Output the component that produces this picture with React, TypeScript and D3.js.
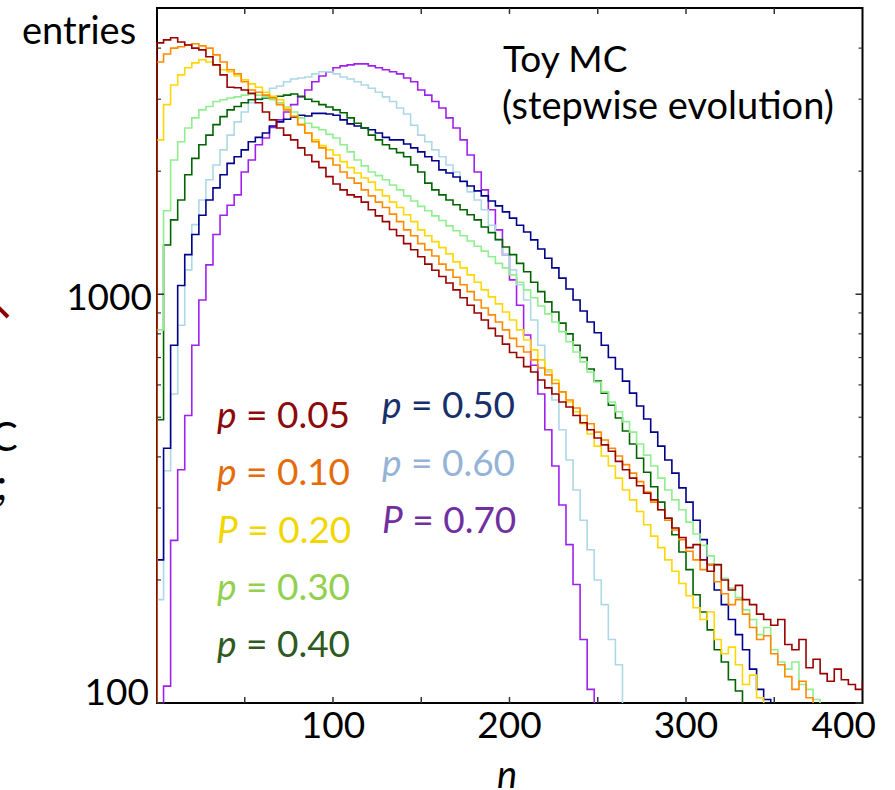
import React from "react";
import * as d3 from "d3";

// Histogram bins: each array starts at n = 0, bins are BIN_WIDTH wide.
const BIN_WIDTH = 4;

const p005 = [4120, 4190, 4240, 4140, 4070, 4000, 3960, 3810, 3640, 3440, 3210, 3200, 3160, 3100, 2940, 2790, 2670, 2550, 2450, 2385, 2280, 2190, 2110, 2040, 1940, 1860, 1800, 1750, 1730, 1680, 1610, 1555, 1505, 1440, 1390, 1330, 1285, 1235, 1185, 1145, 1105, 1065, 1025, 980, 940, 900, 865, 825, 790, 755, 720, 700, 665, 645, 617, 590, 570, 545, 530, 505, 485, 466, 445, 428, 413, 390, 372, 355, 340, 326, 314, 297, 283, 268, 254, 240, 244, 224, 210, 218, 200, 189, 194, 179, 174, 165, 160, 155, 160, 139, 135, 143, 122, 128, 118, 113, 121, 114, 111, 108, 113, 104];
const p010 = [3700, 3870, 4000, 4030, 4070, 4100, 4050, 4000, 3850, 3700, 3540, 3460, 3310, 3160, 3120, 3070, 3020, 2910, 2825, 2720, 2600, 2480, 2360, 2280, 2150, 2070, 1990, 1925, 1870, 1800, 1740, 1680, 1630, 1570, 1505, 1437, 1390, 1330, 1284, 1240, 1185, 1147, 1100, 1055, 1015, 968, 925, 890, 855, 818, 780, 745, 722, 691, 660, 635, 605, 577, 551, 527, 505, 482, 460, 440, 420, 402, 383, 365, 348, 328, 310, 297, 280, 265, 251, 235, 224, 212, 218, 198, 185, 174, 179, 165, 153, 143, 146, 132, 124, 116, 108, 113, 103];
const p020 = [2385, 2910, 3250, 3440, 3580, 3680, 3745, 3700, 3640, 3540, 3500, 3420, 3345, 3270, 3210, 3120, 3050, 2990, 2855, 2730, 2600, 2480, 2385, 2310, 2255, 2190, 2110, 2040, 1980, 1925, 1880, 1800, 1740, 1680, 1630, 1565, 1505, 1437, 1390, 1345, 1300, 1255, 1200, 1160, 1115, 1070, 1025, 985, 947, 905, 865, 818, 773, 731, 691, 653, 617, 577, 545, 516, 482, 455, 425, 402, 380, 355, 332, 314, 294, 273, 256, 240, 224, 210, 196, 183, 171, 160, 167, 143, 132, 137, 124, 111, 117, 103];
const p030 = [818, 1600, 2130, 2360, 2550, 2700, 2825, 2880, 2960, 2990, 3020, 3040, 3070, 3090, 3070, 3040, 2990, 2940, 2870, 2790, 2700, 2620, 2560, 2525, 2460, 2410, 2320, 2230, 2130, 2060, 1990, 1950, 1905, 1850, 1800, 1740, 1690, 1640, 1600, 1555, 1515, 1470, 1430, 1390, 1350, 1310, 1275, 1235, 1190, 1160, 1115, 1070, 1025, 980, 936, 895, 855, 810, 765, 722, 683, 645, 610, 577, 545, 516, 488, 460, 430, 404, 380, 355, 332, 314, 297, 277, 259, 243, 229, 217, 202, 191, 181, 169, 160, 147, 153, 135, 126, 121, 126, 111, 108, 102];
const p040 = [493, 1320, 1520, 1700, 1960, 2150, 2320, 2450, 2600, 2720, 2825, 2880, 2940, 2990, 3000, 3020, 3040, 3050, 3070, 3090, 3050, 3000, 2960, 2910, 2870, 2825, 2780, 2700, 2620, 2550, 2450, 2385, 2320, 2270, 2220, 2170, 2070, 1990, 1870, 1800, 1750, 1700, 1655, 1610, 1565, 1520, 1460, 1415, 1360, 1305, 1250, 1190, 1135, 1070, 1015, 958, 905, 850, 800, 750, 700, 656, 613, 573, 535, 498, 463, 430, 397, 367, 338, 310, 283, 258, 234, 212, 184, 167, 151, 135, 126, 114, 107];
const p050 = [224, 420, 750, 1050, 1250, 1400, 1560, 1700, 1820, 1960, 2090, 2170, 2255, 2360, 2420, 2480, 2580, 2640, 2680, 2710, 2740, 2730, 2770, 2770, 2760, 2740, 2670, 2610, 2580, 2550, 2525, 2480, 2420, 2385, 2385, 2330, 2280, 2230, 2170, 2120, 2015, 1980, 1935, 1890, 1840, 1790, 1740, 1690, 1645, 1590, 1535, 1475, 1420, 1358, 1290, 1225, 1160, 1095, 1030, 968, 910, 855, 805, 750, 700, 656, 613, 573, 533, 495, 460, 425, 393, 365, 336, 310, 280, 251, 218, 189, 174, 160, 147, 135, 121, 108, 102];
const p060 = [179, 370, 570, 840, 1147, 1480, 1700, 1905, 2070, 2255, 2450, 2640, 2790, 2940, 2990, 3070, 3190, 3230, 3310, 3360, 3380, 3400, 3460, 3500, 3500, 3460, 3400, 3360, 3310, 3250, 3190, 3120, 3040, 2960, 2855, 2760, 2590, 2450, 2360, 2255, 2170, 2070, 1990, 1880, 1780, 1700, 1610, 1475, 1358, 1250, 1147, 1055, 968, 865, 750, 645, 551, 466, 393, 332, 280, 237, 200, 174, 143, 124];
const p070 = [0, 110, 250, 372, 505, 750, 968, 1180, 1400, 1560, 1650, 1750, 1990, 2130, 2320, 2410, 2560, 2670, 2790, 2910, 3040, 3160, 3310, 3420, 3500, 3580, 3620, 3640, 3660, 3660, 3620, 3580, 3540, 3500, 3460, 3380, 3310, 3160, 3070, 2960, 2855, 2700, 2550, 2385, 2190, 1990, 1800, 1610, 1437, 1250, 1084, 940, 795, 670, 570, 466, 380, 305, 244, 195, 143, 108];

const seriesData = [p005, p010, p020, p030, p040, p050, p060, p070];
const seriesSymbols = ["p", "p", "P", "p", "p", "p", "p", "P"];
const seriesValues = ["0.05", "0.10", "0.20", "0.30", "0.40", "0.50", "0.60", "0.70"];
const lineColors = ["#990000", "#FF8C00", "#FFD700", "#90EE90", "#006400", "#00008B", "#ADD8E6", "#A020F0"];
const labelColors = ["#8B0A0A", "#E46C0A", "#F2D600", "#92D050", "#2F5A1E", "#17306B", "#95B3D7", "#7030A0"];

const xTickLabels = [100, 200, 300, 400];
const xMinorTicks = [50, 100, 150, 200, 250, 300, 350];
const yMajorTicks = [100, 1000];
const yMinorTicks = [200, 300, 400, 500, 600, 700, 800, 900, 2000, 3000, 4000];

const W = 895;
const H = 790;
const FONT = "Lato, 'Open Sans', sans-serif";

const left = 157;
const right = 862.5;
const top = 8;
const bottom = 703;

const x = d3.scaleLinear().domain([0, 400]).range([156.5, 862.5]);
const y = d3.scaleLog().domain([100, 5000]).range([703, 8.5]);

function histPath(values: number[]): string {
  const floorY = bottom + 4;
  const yy = (v: number) => (v < 100 ? floorY : y(v));
  const pts: [number, number][] = [[x(0), floorY]];
  values.forEach((v, i) => pts.push([x(i * BIN_WIDTH), yy(v)]));
  pts.push([x(values.length * BIN_WIDTH), floorY]);
  const line = d3
    .line<[number, number]>()
    .x((d) => d[0])
    .y((d) => d[1])
    .curve(d3.curveStepAfter);
  return line(pts) || "";
}

export default function App() {
  const drawOrder = [7, 6, 5, 4, 3, 2, 1, 0];
  return (
    <svg
      width={W}
      height={H}
      viewBox={`0 0 ${W} ${H}`}
      style={{ position: "absolute", left: 0, top: 0, background: "#fff" }}
      fontFamily={FONT}
    >
      <defs>
        <clipPath id="plotClip">
          <rect x={left - 1} y={top} width={right - left + 1} height={bottom - top} />
        </clipPath>
      </defs>
      <rect x={0} y={0} width={W} height={H} fill="#fff" />

      {/* fragments of neighbouring slide content at the left edge */}
      <line x1={-4} y1={305} x2={8} y2={317} stroke="#8B0000" strokeWidth={4} />
      <text x={-9} y={451} fontSize={40} fill="#000">C</text>
      <text x={-4} y={500} fontSize={44} fill="#000">;</text>

      {/* frame */}
      <rect x={left} y={top} width={right - left} height={bottom - top} fill="none" stroke="#000" strokeWidth={2} />

      {/* histograms */}
      <g clipPath="url(#plotClip)">
        {drawOrder.map((i) => (
          <path
            key={i}
            d={histPath(seriesData[i])}
            fill="none"
            stroke={lineColors[i]}
            strokeWidth={1.6}
            strokeLinejoin="miter"
          />
        ))}
      </g>

      {/* x ticks (top and bottom, inward) */}
      {xMinorTicks.map((t) => (
        <g key={`xt${t}`} stroke="#333" strokeWidth={1.5}>
          <line x1={x(t)} x2={x(t)} y1={bottom} y2={bottom - 6} />
          <line x1={x(t)} x2={x(t)} y1={top} y2={top + 6} />
        </g>
      ))}
      {/* y ticks (left and right, inward) */}
      {yMajorTicks.map((t) => (
        <g key={`ym${t}`} stroke="#333" strokeWidth={1.5}>
          <line x1={left} x2={left + 7} y1={y(t)} y2={y(t)} />
          <line x1={right} x2={right - 7} y1={y(t)} y2={y(t)} />
        </g>
      ))}
      {yMinorTicks.map((t) => (
        <g key={`yn${t}`} stroke="#333" strokeWidth={1.2}>
          <line x1={left} x2={left + 4} y1={y(t)} y2={y(t)} />
          <line x1={right} x2={right - 4} y1={y(t)} y2={y(t)} />
        </g>
      ))}

      {/* axis labels */}
      <text x={152} y={y(1000) + 16} fontSize={37} textAnchor="end" fill="#000">1000</text>
      <text x={149} y={705} fontSize={37} textAnchor="end" fill="#000">100</text>
      {xTickLabels.map((t, i) => (
        <text
          key={`xl${t}`}
          x={i === xTickLabels.length - 1 ? 876 : x(t)}
          y={738}
          fontSize={37}
          textAnchor={i === xTickLabels.length - 1 ? "end" : "middle"}
          fill="#000"
        >
          {t}
        </text>
      ))}
      <text x={497} y={788} fontSize={38} fontStyle="italic" fill="#000">n</text>
      <text x={22} y={44} fontSize={38} fill="#000">entries</text>

      <text x={503} y={72} fontSize={37} fill="#000">Toy MC</text>
      <text x={502} y={119} fontSize={38} fill="#000">(stepwise evolution)</text>

      {/* legend */}
      {seriesValues.map((v, i) => {
        const col = i < 5 ? 0 : 1;
        const row = col === 0 ? i : i - 5;
        const lx = col === 0 ? 217 : 382;
        const ly = col === 0 ? 428 + row * 57.3 : 418 + row * 57.5;
        return (
          <text key={`lg${i}`} x={lx} y={ly} fontSize={37} fill={labelColors[i]}>
            <tspan fontStyle="italic">{seriesSymbols[i]}</tspan>
            <tspan> = {v}</tspan>
          </text>
        );
      })}
    </svg>
  );
}
